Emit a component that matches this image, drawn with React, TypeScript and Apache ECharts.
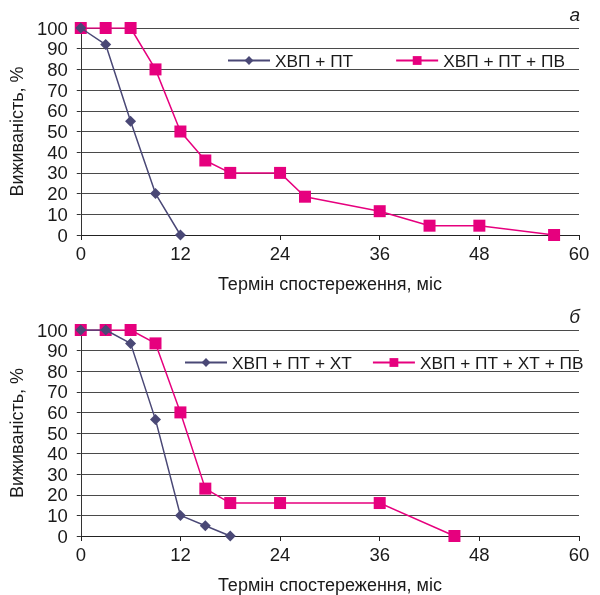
import React, { useEffect, useRef } from "react";
import * as echarts from "echarts";

const aPT = [[0, 100], [3, 92], [6, 55], [9, 20], [12, 0]];
const aPTPV = [
  [0, 100], [3, 100], [6, 100], [9, 80], [12, 50], [15, 36], [18, 30],
  [24, 30], [27, 18.5], [36, 11.5], [42, 4.5], [48, 4.5], [57, 0],
];
const bPTXT = [[0, 100], [3, 100], [6, 93.5], [9, 56.5], [12, 10], [15, 5], [18, 0]];
const bPTXTPV = [
  [0, 100], [3, 100], [6, 100], [9, 93.5], [12, 60], [15, 23], [18, 16],
  [24, 16], [36, 16], [45, 0],
];

const namesA = ["ХВП + ПТ", "ХВП + ПТ + ПВ"];
const namesB = ["ХВП + ПТ + ХТ", "ХВП + ПТ + ХТ + ПВ"];
const panelLabels = ["а", "б"];
const xTitle = "Термін спостереження, міс";
const yTitle = "Виживаність, %";

const PURPLE = "#4a4876";
const MAGENTA = "#e6007e";
const FONT = "Liberation Sans";
const TXT = "#1a1a1a";

export default function App() {
  const ref = useRef<HTMLDivElement>(null);
  useEffect(() => {
    document.body.style.margin = "0";
    const chart = echarts.init(ref.current!, null, { renderer: "svg" });
    const grids = [
      { left: 80, width: 499, top: 28, height: 207 },
      { left: 80, width: 499, top: 330, height: 207 },
    ];
    const xAxis = grids.map((_, i) => ({
      type: "value",
      gridIndex: i,
      min: 0,
      max: 60,
      interval: 12,
      name: xTitle,
      nameLocation: "middle",
      nameGap: 40,
      nameTextStyle: { fontFamily: FONT, fontSize: 18, color: TXT },
      axisLine: { show: true, lineStyle: { color: "#222", width: 1 } },
      axisTick: { show: true, length: 5, lineStyle: { color: "#222" } },
      axisLabel: { fontFamily: FONT, fontSize: 18.5, color: TXT, margin: 9 },
      splitLine: { show: false },
    }));
    const yAxis = grids.map((_, i) => ({
      type: "value",
      gridIndex: i,
      min: 0,
      max: 100,
      interval: 10,
      name: yTitle,
      nameLocation: "middle",
      nameGap: 52,
      nameRotate: 90,
      nameTextStyle: { fontFamily: FONT, fontSize: 18, color: TXT },
      axisLine: { show: true, lineStyle: { color: "#333", width: 1 } },
      axisTick: { show: true, length: 4, lineStyle: { color: "#333" } },
      axisLabel: { fontFamily: FONT, fontSize: 18.5, color: TXT, margin: 13 },
      splitLine: { show: true, lineStyle: { color: "#4a4a4a", width: 1 } },
    }));
    const mk = (name: string, data: number[][], idx: number, purple: boolean) => ({
      type: "line",
      name,
      xAxisIndex: idx,
      yAxisIndex: idx,
      data,
      symbol: purple ? "diamond" : "rect",
      symbolSize: purple ? 11 : 12,
      itemStyle: { color: purple ? PURPLE : MAGENTA },
      lineStyle: { color: purple ? PURPLE : MAGENTA, width: 1.5 },
      z: purple ? 3 : 2,
    });
    chart.setOption({
      animation: false,
      grid: grids,
      xAxis,
      yAxis,
      legend: [
        {
          data: namesA,
          left: 223,
          top: 51,
          itemWidth: 42,
          itemHeight: 11,
          itemGap: 42,
          padding: [1, 4],
          textStyle: { fontFamily: FONT, fontSize: 17.3, color: TXT },
        },
        {
          data: namesB,
          left: 180,
          top: 353,
          itemWidth: 42,
          itemHeight: 11,
          itemGap: 20,
          padding: [1, 4],
          textStyle: { fontFamily: FONT, fontSize: 17.3, color: TXT },
        },
      ],
      graphic: [
        {
          type: "text",
          right: 20,
          top: 5,
          style: { text: panelLabels[0], font: `italic 19px ${FONT}`, fill: TXT },
        },
        {
          type: "text",
          right: 20,
          top: 307,
          style: { text: panelLabels[1], font: `italic 19px ${FONT}`, fill: TXT },
        },
      ],
      series: [
        mk(namesA[0], aPT, 0, true),
        mk(namesA[1], aPTPV, 0, false),
        mk(namesB[0], bPTXT, 1, true),
        mk(namesB[1], bPTXTPV, 1, false),
      ],
    });
    return () => chart.dispose();
  }, []);
  return (
    <div
      ref={ref}
      style={{ position: "fixed", left: 0, top: 0, width: 600, height: 595 }}
    />
  );
}
